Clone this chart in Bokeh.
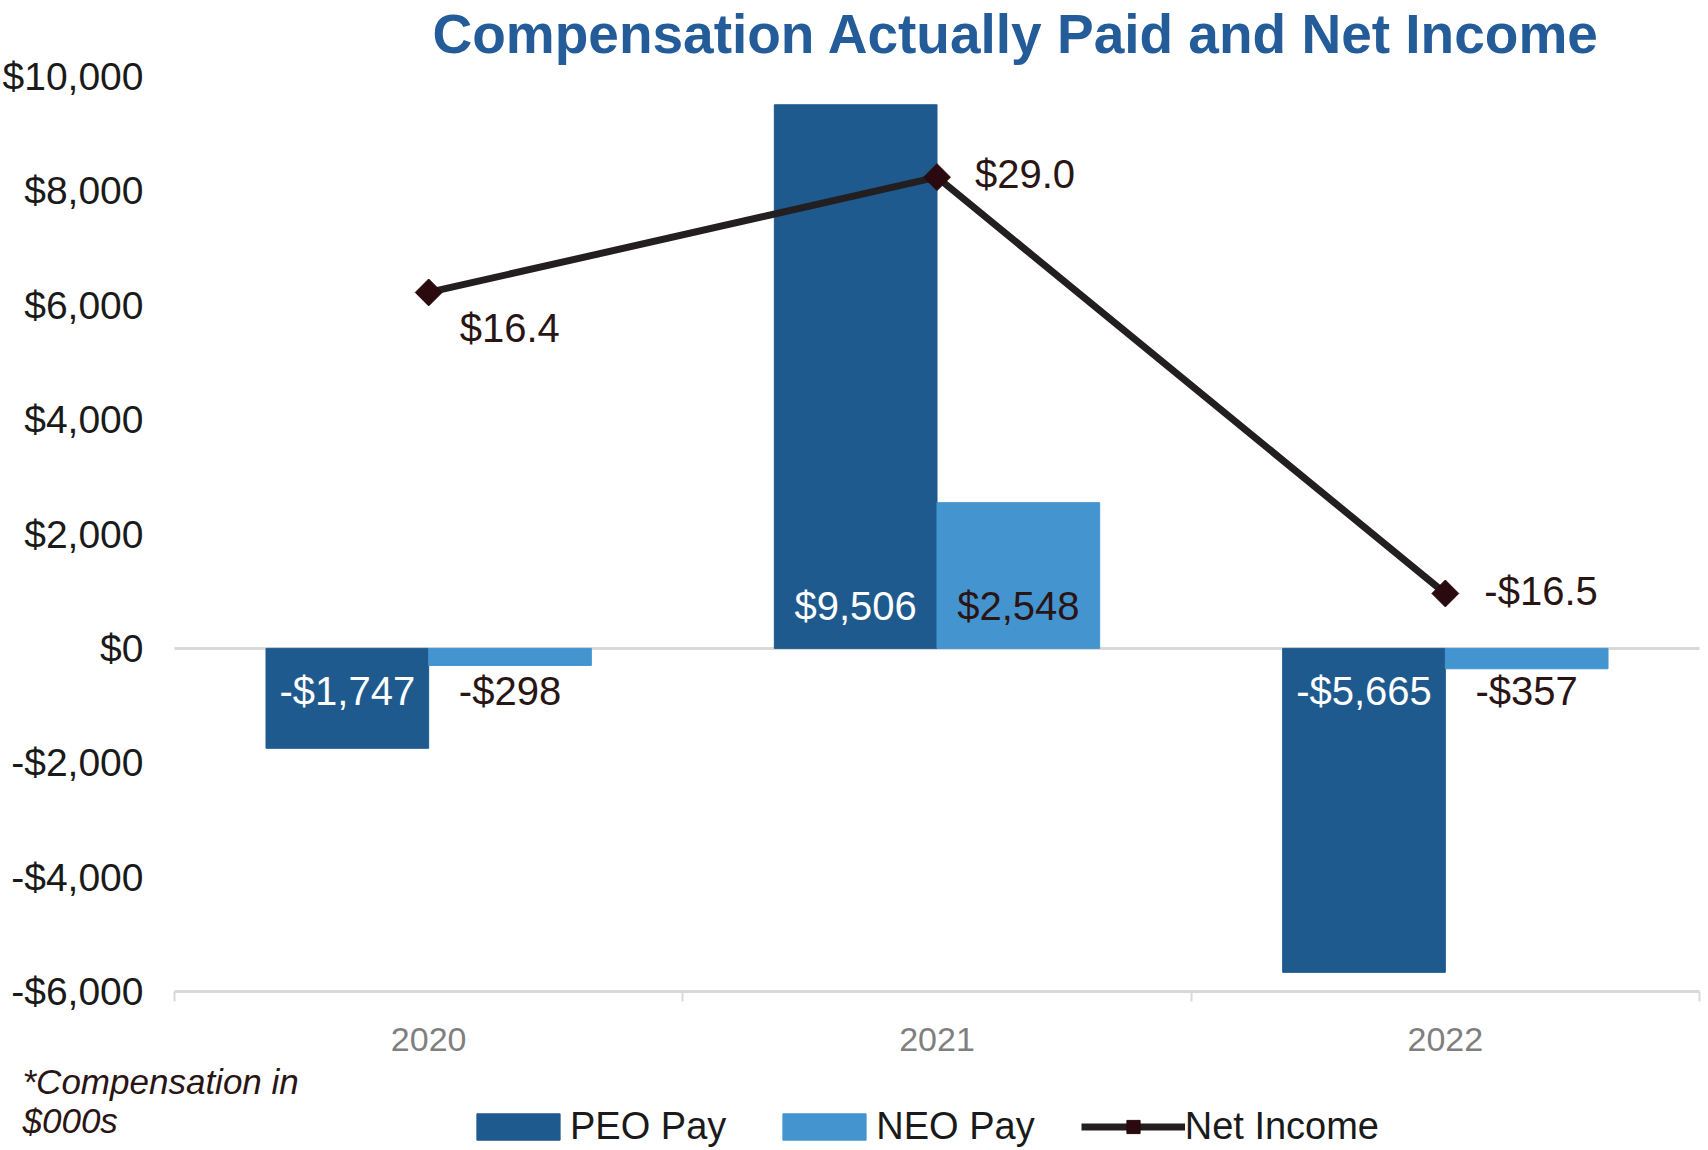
import numpy as np
from bokeh.plotting import figure
from bokeh.models import (Range1d, FixedTicker, Legend, LegendItem, Label)
from bokeh.core.properties import value
from bokeh.embed import file_html
from bokeh.resources import INLINE

# ---- data ----
years = ["2020", "2021", "2022"]
peo_pay = [-1747, 9506, -5665]
neo_pay = [-298, 2548, -357]
net_income = [16.4, 29.0, -16.5]          # $M, secondary (hidden) axis
peo_labels = ["-$1,747", "$9,506", "-$5,665"]
neo_labels = ["-$298", "$2,548", "-$357"]
ni_labels = ["$16.4", "$29.0", "-$16.5"]
y_ticks = [-6000, -4000, -2000, 0, 2000, 4000, 6000, 8000, 10000]
y_tick_labels = ["-$6,000", "-$4,000", "-$2,000", "$0", "$2,000",
                 "$4,000", "$6,000", "$8,000", "$10,000"]
y_min, y_max = -6000, 10000
ni_min, ni_max = -60, 40

FONT = "Liberation Sans"
PEO = "#1F5A8F"
NEO = "#4494D0"
DARK = "#2A1515"

# ---- layout (pixels) ----
W, H = 1708, 1150
PLOT_L, PLOT_T, PLOT_W, PLOT_H = 174, 76, 1525, 915
PLOT_B = H - PLOT_T - PLOT_H
PLOT_R = W - PLOT_L - PLOT_W

n = len(years)
ux = n / PLOT_W
uy = (y_max - y_min) / PLOT_H
uni = (ni_max - ni_min) / PLOT_H

p = figure(width=W, height=H, output_backend="svg", toolbar_location=None,
           x_range=Range1d(-PLOT_L * ux, n + PLOT_R * ux),
           y_range=Range1d(y_min - PLOT_B * uy, y_max + PLOT_T * uy),
           min_border=0, min_border_left=0, min_border_right=0,
           min_border_top=0, min_border_bottom=0)
p.extra_y_ranges = {"ni": Range1d(ni_min - PLOT_B * uni, ni_max + PLOT_T * uni)}
p.outline_line_color = None
p.background_fill_color = "white"

idx = np.arange(n) + 0.5
bw = 0.32

# zero baseline across the category span
p.segment(x0=[0], x1=[n], y0=[0], y1=[0], line_color="#D9D9D9", line_width=3)

peo_r = p.vbar(x=idx - bw / 2, top=peo_pay, bottom=0, width=bw,
               fill_color=PEO, line_color=PEO)
neo_r = p.vbar(x=idx + bw / 2, top=neo_pay, bottom=0, width=bw,
               fill_color=NEO, line_color=NEO)

ln = p.line(idx, net_income, y_range_name="ni", line_color="#231F20", line_width=7)
mk = p.scatter(idx, net_income, y_range_name="ni", marker="square", angle=np.pi / 4,
               size=19, fill_color="#2A0A0E", line_color="#2A0A0E")

# bar labels (inside base)
peo_off = [-42 if v > 0 else 43 for v in peo_pay]
neo_off = [-42 if v > 0 else 43 for v in neo_pay]
p.text(x=idx - bw / 2, y=[0] * n, text=peo_labels, y_offset=peo_off,
       text_align="center", text_baseline="middle", text_color="white",
       text_font=value(FONT), text_font_size="40px")
p.text(x=idx + bw / 2, y=[0] * n, text=neo_labels, y_offset=neo_off,
       text_align="center", text_baseline="middle", text_color=DARK,
       text_font=value(FONT), text_font_size="40px")

# net income labels
p.text(x=idx, y=net_income, y_range_name="ni", text=ni_labels,
       x_offset=[31, 38, 39], y_offset=[36, -3, -2],
       text_align="left", text_baseline="middle", text_color=DARK,
       text_font=value(FONT), text_font_size="40px")

# grid
p.xgrid.visible = False
p.ygrid.visible = False

# y axis
p.yaxis.fixed_location = 0
p.yaxis.ticker = FixedTicker(ticks=y_ticks)
p.yaxis.major_label_overrides = dict(zip(y_ticks, y_tick_labels))
p.yaxis.axis_line_color = None
p.yaxis.major_tick_line_color = None
p.yaxis.minor_tick_line_color = None
p.yaxis.major_tick_out = 0
p.yaxis.major_tick_in = 0
p.yaxis.major_label_standoff = 31
p.yaxis.major_label_text_font = FONT
p.yaxis.major_label_text_font_size = "39px"
p.yaxis.major_label_text_color = "#1A1A1A"

# x axis
p.xaxis.fixed_location = y_min
p.xaxis.bounds = (0, n)
p.xaxis.ticker = FixedTicker(ticks=list(idx), minor_ticks=list(np.arange(n + 1)))
p.xaxis.major_label_overrides = dict(zip([float(v) for v in idx], years))
p.xaxis.axis_line_color = "#D9D9D9"
p.xaxis.axis_line_width = 3
p.xaxis.major_tick_line_color = None
p.xaxis.major_tick_out = 0
p.xaxis.major_tick_in = 0
p.xaxis.minor_tick_line_color = "#D9D9D9"
p.xaxis.minor_tick_line_width = 2
p.xaxis.minor_tick_out = 10
p.xaxis.minor_tick_in = 0
p.xaxis.major_label_standoff = 26
p.xaxis.major_label_text_font = FONT
p.xaxis.major_label_text_font_size = "34px"
p.xaxis.major_label_text_color = "#7F7F7F"

# title
p.add_layout(Label(x=432, y=H - 33, x_units="screen", y_units="screen",
                   text="Compensation Actually Paid and Net Income",
                   text_font=FONT, text_font_size="55px", text_font_style="bold",
                   text_color="#235C98", text_baseline="middle", text_align="left"))

# legend
legend = Legend(items=[LegendItem(label="PEO Pay", renderers=[peo_r]),
                       LegendItem(label="NEO Pay", renderers=[neo_r]),
                       LegendItem(label="Net Income", renderers=[ln, mk])],
                orientation="horizontal", location=(466, 2),
                glyph_width=104, glyph_height=33, label_standoff=0, spacing=46,
                label_text_font=FONT, label_text_font_size="38px",
                label_text_color="#1A1A1A", border_line_color=None,
                background_fill_alpha=0, padding=0, margin=0)
p.add_layout(legend, "center")

# footnote
p.add_layout(Label(x=22, y=H - 1081, x_units="screen", y_units="screen",
                   text="*Compensation in", text_font=FONT, text_font_size="35px",
                   text_font_style="italic", text_color=DARK, text_baseline="middle"))
p.add_layout(Label(x=22, y=H - 1120, x_units="screen", y_units="screen",
                   text="$000s", text_font=FONT, text_font_size="35px",
                   text_font_style="italic", text_color=DARK, text_baseline="middle"))

open("out.html", "w").write(file_html(p, INLINE))
